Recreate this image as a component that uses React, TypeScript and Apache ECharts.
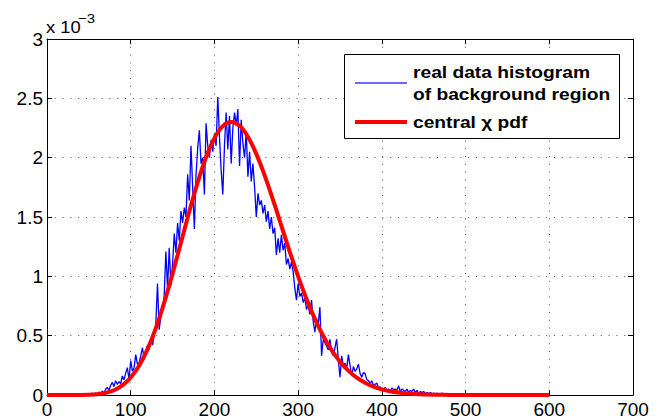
import React, { useEffect, useRef } from "react";
import * as echarts from "echarts";

// Axes
const X_MIN = 0;
const X_MAX = 700;
const X_STEP = 100;
const Y_MIN = 0;
const Y_MAX = 3;
const Y_STEP = 0.5;
const exponentBase = "x 10";
const exponentPower = "−3";

// Legend texts
const blueName = ["real data histogram", "of background region"];
const redName = "central χ pdf";

// Central chi pdf (units of 1e-3), x = 0..600 step 10
const redStart = 0;
const redStep = 10;
const redValues = [
  0, 0, 0, 0, 0.0004, 0.002, 0.0066, 0.0176, 0.04, 0.081,
  0.148, 0.247, 0.385, 0.563, 0.778, 1.023, 1.285, 1.547, 1.792, 2.004,
  2.165, 2.266, 2.3, 2.268, 2.176, 2.032, 1.851, 1.644, 1.425, 1.207,
  1.0, 0.809, 0.641, 0.497, 0.378, 0.281, 0.205, 0.146, 0.103, 0.071,
  0.048, 0.032, 0.021, 0.013, 0.008, 0.005, 0.003, 0.002, 0.001, 0.0006,
  0.0003, 0, 0, 0, 0, 0, 0, 0, 0, 0,
  0,
];

// Real data histogram (units of 1e-3), x = 40..500 step 2
const blueStart = 40;
const blueStep = 2;
const blueValues = [
  0, 0, 0.008, 0, 0, 0.008, 0, 0.016, 0.008, 0.016,
  0.008, 0.024, 0.016, 0.032, 0.016, 0.048, 0.064, 0.04, 0.08, 0.106,
  0.072, 0.12, 0.09, 0.112, 0.096, 0.16, 0.128, 0.184, 0.23, 0.13,
  0.29, 0.2, 0.23, 0.34, 0.26, 0.27, 0.33, 0.4, 0.3, 0.36,
  0.42, 0.38, 0.47, 0.42, 0.5, 0.6, 0.94, 0.55, 0.66, 0.72,
  0.84, 1.21, 0.9, 1.24, 0.92, 1.1, 1.36, 1.2, 1.45, 1.3,
  1.55, 1.45, 1.58, 1.5, 1.86, 1.64, 2.1, 1.75, 1.4, 1.85,
  2.08, 2.23, 1.95, 2.0, 1.69, 2.29, 2.1, 2.0, 2.15, 2.05,
  2.2, 2.1, 2.51, 2.18, 1.9, 1.69, 2.1, 2.38, 2.07, 2.35,
  1.95, 2.25, 2.38, 2.27, 2.41, 1.93, 2.32, 2.12, 2.0, 2.22,
  1.84, 2.05, 1.8, 1.95, 1.75, 1.5, 1.7, 1.6, 1.64, 1.53,
  1.6, 1.46, 1.55, 1.4, 1.5, 1.36, 1.41, 1.18, 1.32, 1.2,
  1.35, 1.22, 1.28, 1.1, 1.15, 1.06, 1.12, 1.04, 0.9, 0.8,
  0.94, 0.83, 0.86, 0.78, 0.82, 0.72, 0.76, 0.68, 0.8, 0.62,
  0.53, 0.64, 0.6, 0.74, 0.33, 0.47, 0.44, 0.41, 0.38, 0.47,
  0.36, 0.33, 0.4, 0.47, 0.3, 0.15, 0.33, 0.24, 0.27, 0.22,
  0.34, 0.25, 0.16, 0.24, 0.2, 0.22, 0.26, 0.18, 0.15, 0.19,
  0.18, 0.13, 0.12, 0.1, 0.12, 0.078, 0.09, 0.1, 0.06, 0.07,
  0.036, 0.05, 0.064, 0.04, 0.05, 0.03, 0.06, 0.045, 0.05, 0.04,
  0.078, 0.03, 0.05, 0.04, 0.03, 0.05, 0.02, 0.04, 0.03, 0.05,
  0.02, 0.04, 0.01, 0.03, 0.02, 0.03, 0.01, 0.02, 0.01, 0.02,
  0.01, 0.016, 0.008, 0.016, 0, 0.008, 0.016, 0, 0.008, 0,
  0.008, 0, 0, 0.008, 0, 0, 0, 0.008, 0, 0,
  0,
];

const FONT = '"Liberation Sans", Arial, Helvetica, sans-serif';

export default function App() {
  const ref = useRef<HTMLDivElement>(null);

  useEffect(() => {
    document.body.style.margin = "0";
    if (!ref.current) return;
    const chart = echarts.init(ref.current, undefined, { renderer: "svg" });

    const blueData = blueValues.map((v, i) => [blueStart + i * blueStep, v]);
    const redData = redValues.map((v, i) => [redStart + i * redStep, v]);

    const axisLine = { show: true, onZero: false, lineStyle: { color: "#000", width: 1 } };
    const axisTick = { show: true, inside: true, length: 5, lineStyle: { color: "#000", width: 1 } };
    const gridLine = { show: true, lineStyle: { color: "#555", width: 1, type: [1, 6.8] as any } };
    const label = { color: "#000", fontSize: 19, fontFamily: FONT };

    chart.setOption({
      animation: false,
      backgroundColor: "#fff",
      grid: { left: 47, right: 30, top: 39, bottom: 23, containLabel: false },
      xAxis: [
        {
          type: "value", min: X_MIN, max: X_MAX, interval: X_STEP, position: "bottom",
          axisLine, axisTick, splitLine: gridLine,
          axisLabel: { ...label, margin: 5 },
        },
        {
          type: "value", min: X_MIN, max: X_MAX, interval: X_STEP, position: "top",
          axisLine, axisTick, splitLine: { show: false }, axisLabel: { show: false },
        },
      ],
      yAxis: [
        {
          type: "value", min: Y_MIN, max: Y_MAX, interval: Y_STEP, position: "left",
          axisLine, axisTick, splitLine: gridLine,
          axisLabel: { ...label, margin: 4 },
        },
        {
          type: "value", min: Y_MIN, max: Y_MAX, interval: Y_STEP, position: "right",
          axisLine, axisTick, splitLine: { show: false }, axisLabel: { show: false },
        },
      ],
      series: [
        {
          name: blueName.join(" "), type: "line", data: blueData, xAxisIndex: 0, yAxisIndex: 0,
          symbol: "none", clip: false, z: 2,
          lineStyle: { color: "#0000ff", width: 1.3 },
        },
        {
          name: redName, type: "line", data: redData, xAxisIndex: 0, yAxisIndex: 0,
          symbol: "none", smooth: 0.3, clip: false, z: 3,
          lineStyle: { color: "#ff0000", width: 4 },
        },
      ],
      graphic: [
        {
          type: "text", x: 46, y: 27, scaleX: 1.15, z: 100,
          style: { text: exponentBase, font: `16px ${FONT}`, fill: "#000", verticalAlign: "middle" },
        },
        {
          type: "text", x: 78, y: 18, scaleX: 1.15, z: 100,
          style: { text: exponentPower, font: `13px ${FONT}`, fill: "#000", verticalAlign: "middle" },
        },
        {
          type: "rect", z: 100,
          shape: { x: 344.5, y: 54.5, width: 275, height: 84 },
          style: { fill: "#fff", stroke: "#000", lineWidth: 1 },
        },
        {
          type: "line", z: 101,
          shape: { x1: 355, y1: 83, x2: 407, y2: 83 },
          style: { stroke: "#3a3aff", lineWidth: 1.5 },
        },
        {
          type: "line", z: 101,
          shape: { x1: 355, y1: 122, x2: 407, y2: 122 },
          style: { stroke: "#ff0000", lineWidth: 4 },
        },
        {
          type: "text", x: 413, y: 73, scaleX: 1.2, z: 101,
          style: { text: blueName[0], font: `bold 16px ${FONT}`, fill: "#000", verticalAlign: "middle" },
        },
        {
          type: "text", x: 413, y: 95, scaleX: 1.2, z: 101,
          style: { text: blueName[1], font: `bold 16px ${FONT}`, fill: "#000", verticalAlign: "middle" },
        },
        {
          type: "text", x: 413, y: 123, scaleX: 1.2, z: 101,
          style: { text: redName, font: `bold 16px ${FONT}`, fill: "#000", verticalAlign: "middle" },
        },
      ],
    });

    return () => chart.dispose();
  }, []);

  return <div ref={ref} style={{ width: 663, height: 419 }} />;
}
